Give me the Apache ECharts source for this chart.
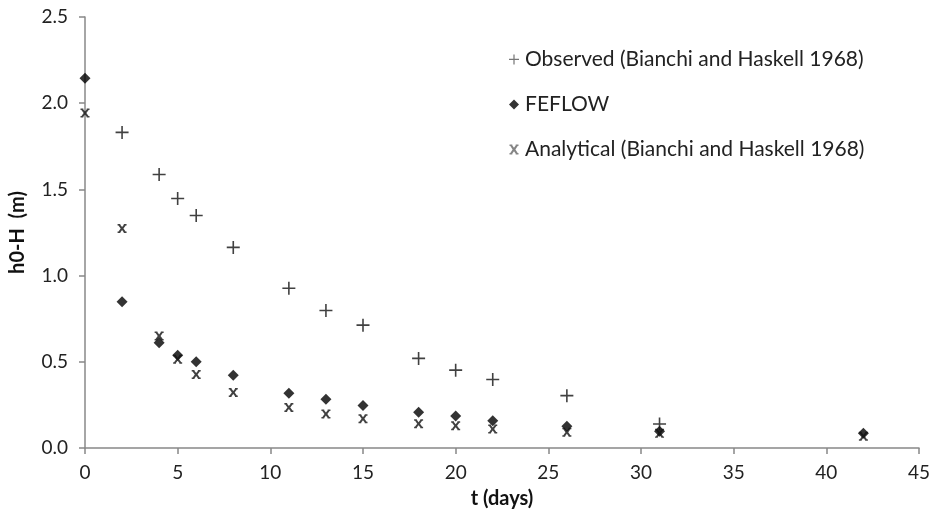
<!DOCTYPE html>
<html><head><meta charset="utf-8">
<script src="https://cdn.jsdelivr.net/npm/echarts@6/dist/echarts.min.js"></script>
<style>html,body{margin:0;padding:0;background:#fff}#c{width:937px;height:514px}</style>
</head><body><div id="c"></div>
<script>
var tObserved = [2, 4, 5, 6, 8, 11, 13, 15, 18, 20, 22, 26, 31];
var observed = [1.83, 1.586, 1.447, 1.348, 1.163, 0.926, 0.797, 0.712, 0.519, 0.451, 0.397, 0.303, 0.139];
var tModel = [0, 2, 4, 5, 6, 8, 11, 13, 15, 18, 20, 22, 26, 31, 42];
var feflow = [2.145, 0.849, 0.61, 0.538, 0.50, 0.422, 0.318, 0.283, 0.247, 0.207, 0.185, 0.158, 0.126, 0.097, 0.085];
var analytical = [1.943, 1.273, 0.65, 0.515, 0.426, 0.322, 0.235, 0.197, 0.17, 0.141, 0.129, 0.11, 0.091, 0.085, 0.068];
var seriesNames = ['Observed (Bianchi and Haskell 1968)', 'FEFLOW', 'Analytical (Bianchi and Haskell 1968)'];
var yTickLabels = ['0.0', '0.5', '1.0', '1.5', '2.0', '2.5'];

function pairs(xs, ys) { return xs.map(function (x, i) { return [x, ys[i]]; }); }

var plusPath = 'path://M0,5.6 h13 v1.6 h-13z M5.7,0 h1.6 v13 h-1.6z';
var diamondPath = 'path://M5,0 L10,5 L5,10 L0,5z';
var anaPath = 'path://M0.5,0 h2.8 v1.6 h-2.8z M6.7,0 h2.8 v1.6 h-2.8z M0.5,8.4 h2.8 v1.6 h-2.8z M6.7,8.4 h2.8 v1.6 h-2.8z ' +
  'M1,1 L3.4,1 L5,3.3 L6.6,1 L9,1 L6.4,5 L9,9 L6.6,9 L5,6.7 L3.4,9 L1,9 L3.6,5z';

var font = 'Lato, "Open Sans", sans-serif';
var chart = echarts.init(document.getElementById('c'));
chart.setOption({
  animation: false,
  backgroundColor: '#fff',
  grid: { left: 82, right: 18, top: 17, bottom: 65 },
  legend: {
    orient: 'vertical', left: 504, top: 44, itemGap: 24, itemWidth: 12, itemHeight: 10,
    textStyle: { fontSize: 21, fontFamily: font, color: '#222' },
    data: [
      { name: seriesNames[0], icon: plusPath, itemStyle: { color: '#555' } },
      { name: seriesNames[1], icon: diamondPath },
      { name: seriesNames[2], icon: anaPath, itemStyle: { color: '#666' } }
    ]
  },
  xAxis: {
    type: 'value', min: 0, max: 45, interval: 5,
    name: 't (days)', nameLocation: 'middle', nameGap: 41,
    nameTextStyle: { fontSize: 20, fontWeight: 'bold', fontFamily: font, color: '#111' },
    axisLine: { lineStyle: { color: '#888', width: 1.5 } },
    axisTick: { show: true, length: 6, lineStyle: { color: '#888', width: 1.5 } },
    axisLabel: { fontSize: 19, fontFamily: font, color: '#222', margin: 15 },
    splitLine: { show: false }
  },
  yAxis: {
    type: 'value', min: 0, max: 2.5, interval: 0.5,
    name: 'h0-H  (m)', nameLocation: 'middle', nameGap: 57, nameRotate: 90,
    nameTextStyle: { fontSize: 20, fontWeight: 'bold', fontFamily: font, color: '#111' },
    axisLine: { show: true, lineStyle: { color: '#888', width: 1.5 } },
    axisTick: { show: true, length: 6, lineStyle: { color: '#888', width: 1.5 } },
    axisLabel: { fontSize: 19, fontFamily: font, color: '#222', margin: 17,
      formatter: function (v) { return yTickLabels[Math.round(v / 0.5)]; } },
    splitLine: { show: false }
  },
  series: [
    { name: seriesNames[0], type: 'scatter', symbol: plusPath, symbolSize: 13,
      itemStyle: { color: '#111' }, data: pairs(tObserved, observed), z: 3 },
    { name: seriesNames[1], type: 'scatter', symbol: diamondPath, symbolSize: 11,
      itemStyle: { color: '#000' }, data: pairs(tModel, feflow), z: 2 },
    { name: seriesNames[2], type: 'scatter', symbol: anaPath, symbolSize: 9,
      itemStyle: { color: '#111' }, data: pairs(tModel, analytical), z: 4 }
  ]
});
</script></body></html>
